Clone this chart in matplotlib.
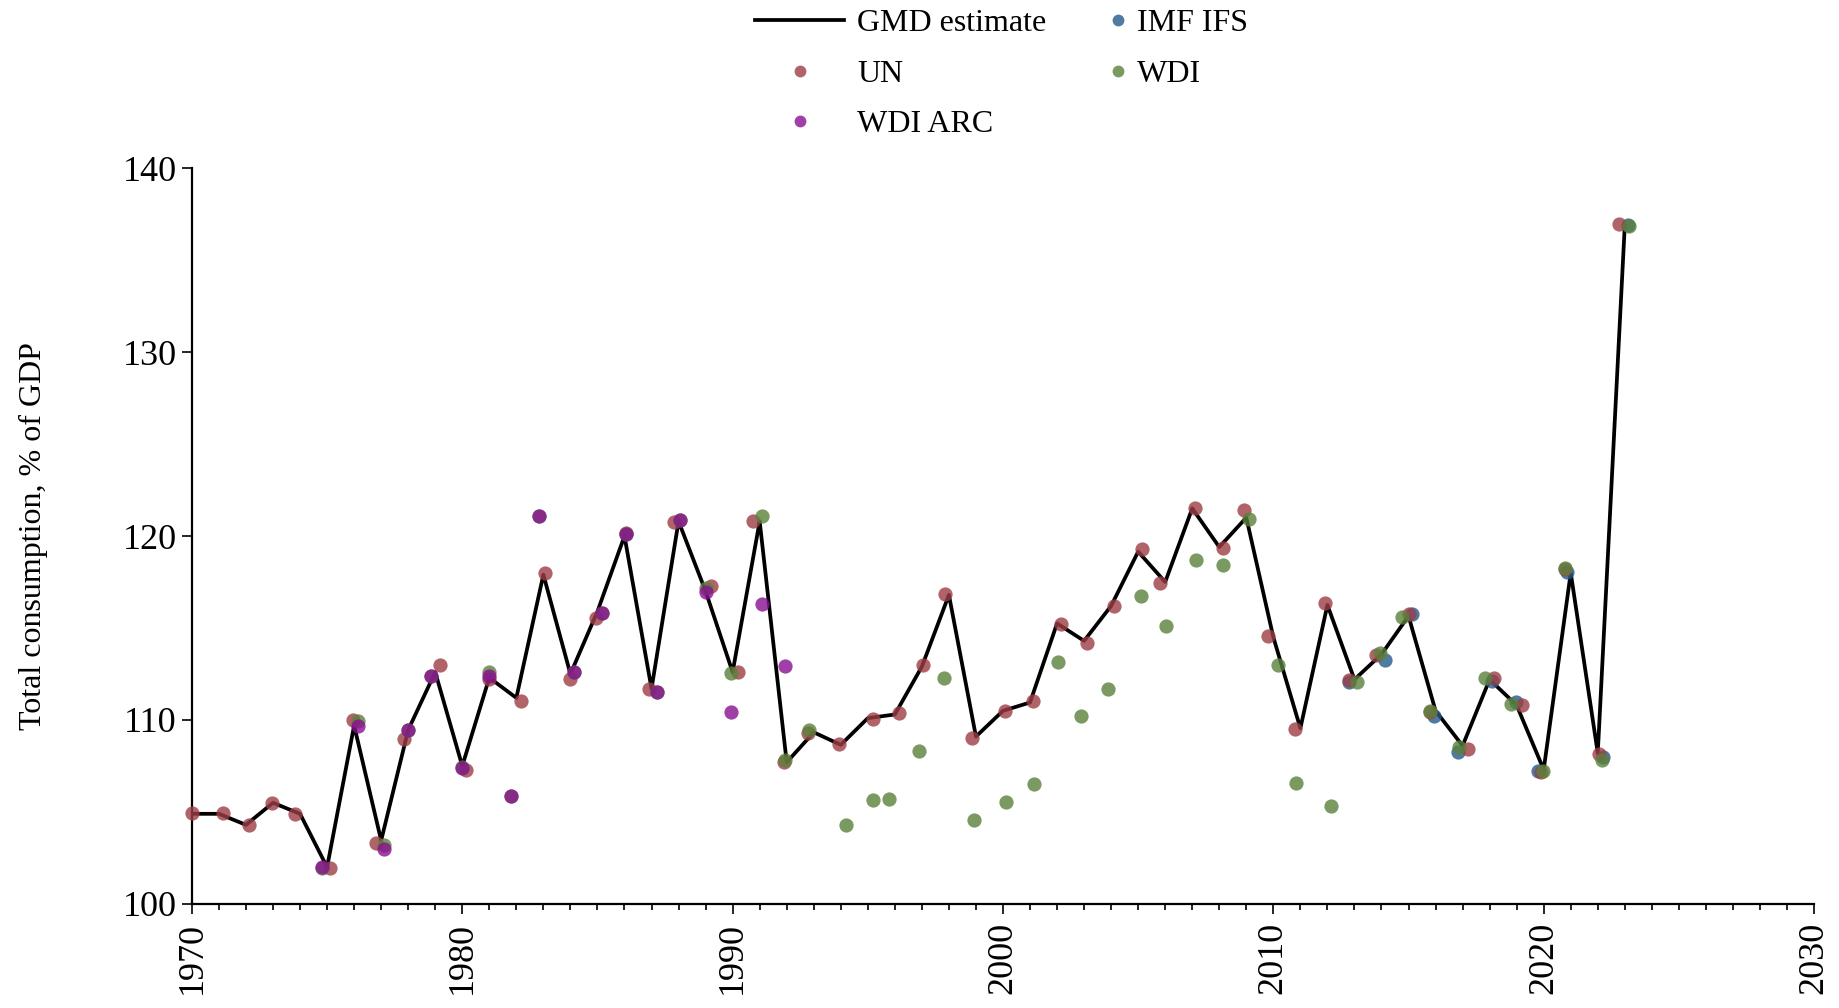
import matplotlib
matplotlib.use("Agg")
import matplotlib.pyplot as plt
from matplotlib.lines import Line2D

plt.rcParams['font.family'] = ['Liberation Serif', 'DejaVu Serif']

# GMD estimate, one value per year
gmd_years = list(range(1970, 2024))
gmd_vals = [104.9, 104.9, 104.3, 105.5, 104.9, 102.0, 109.7, 103.45, 109.46, 112.6,
            107.5, 112.3, 111.2, 117.9, 112.5, 115.9, 120.0, 111.7, 120.8, 117.0,
            112.6, 120.8, 107.7, 109.33, 108.65, 110.1, 110.3, 112.9, 116.8, 109.1,
            110.5, 110.95, 115.25, 114.3, 116.2, 119.15, 117.5, 121.5, 119.4, 121.0,
            114.5, 109.55, 116.25, 112.2, 113.57, 115.65, 110.5, 108.6, 112.2, 110.8,
            107.3, 118.0, 108.2, 136.9]

# source points (x carries the small horizontal jitter of each dot)
un_x = [1970.0, 1971.15, 1972.1, 1972.97, 1973.83, 1975.1, 1975.95, 1976.82, 1977.84, 1979.16,
        1980.15, 1981.0, 1982.18, 1983.07, 1984.0, 1984.93, 1986.06, 1986.9, 1987.85, 1989.21,
        1990.19, 1990.77, 1991.9, 1992.78, 1993.93, 1995.19, 1996.15, 1997.03, 1997.87, 1998.86,
        2000.08, 2001.1, 2002.13, 2003.11, 2004.09, 2005.15, 2005.82, 2007.11, 2008.13, 2008.93,
        2009.79, 2010.81, 2011.92, 2012.8, 2013.8, 2015.03, 2015.8, 2017.2, 2018.17, 2019.2,
        2019.9, 2020.8, 2022.03, 2022.8]
un_y = [104.96, 104.93, 104.28, 105.47, 104.89, 101.94, 110.0, 103.3, 108.95, 112.97,
        107.28, 112.21, 111.03, 118.01, 112.23, 115.56, 120.15, 111.67, 120.74, 117.28,
        112.59, 120.83, 107.74, 109.31, 108.7, 110.04, 110.36, 112.99, 116.85, 109.04,
        110.49, 111.05, 115.22, 114.17, 116.2, 119.29, 117.43, 121.54, 119.33, 121.41,
        114.57, 109.49, 116.38, 112.17, 113.53, 115.74, 110.45, 108.4, 112.26, 110.83,
        107.2, 118.2, 108.13, 136.96]

imf_x = [2012.78, 2014.14, 2015.14, 2015.96, 2016.84, 2018.07, 2018.98, 2019.78, 2020.86, 2022.18, 2023.13]
imf_y = [112.08, 113.26, 115.74, 110.22, 108.24, 112.14, 110.99, 107.25, 118.06, 107.97, 136.9]

wdi_x = [1974.8, 1976.15, 1977.1, 1978.0, 1978.85, 1980.0, 1980.98, 1981.81, 1982.83, 1984.15,
         1985.18, 1986.06, 1987.19, 1988.06, 1989.02, 1989.94, 1991.1, 1991.92, 1992.84, 1994.2,
         1995.19, 1995.8, 1996.88, 1997.8, 1998.93, 2000.11, 2001.13, 2002.05, 2002.87, 2003.88,
         2005.12, 2006.02, 2007.15, 2008.13, 2009.09, 2010.16, 2010.82, 2012.12, 2013.1, 2013.95,
         2014.76, 2015.8, 2016.88, 2017.83, 2018.79, 2019.97, 2020.77, 2022.15, 2023.17]
wdi_y = [101.95, 109.95, 103.2, 109.46, 112.39, 107.46, 112.6, 105.89, 121.1, 112.6,
         115.83, 120.1, 111.5, 120.87, 117.15, 112.57, 121.09, 107.8, 109.46, 104.29,
         105.65, 105.7, 108.32, 112.26, 104.57, 105.52, 106.52, 113.17, 110.22, 111.67,
         116.76, 115.1, 118.7, 118.42, 120.9, 112.99, 106.56, 105.34, 112.08, 113.66,
         115.62, 110.51, 108.51, 112.28, 110.85, 107.25, 118.24, 107.83, 136.85]

arc_x = [1974.8, 1976.15, 1977.12, 1978.0, 1978.85, 1980.0, 1980.98, 1981.81, 1982.83, 1984.15,
         1985.18, 1986.06, 1987.19, 1988.06, 1989.0, 1989.94, 1991.1, 1991.92]
arc_y = [102.03, 109.69, 102.99, 109.46, 112.39, 107.4, 112.4, 105.89, 121.1, 112.6,
         115.83, 120.1, 111.54, 120.87, 116.97, 110.45, 116.3, 112.93]

c_imf = '#235a8b'
c_un = '#9c3d45'
c_wdi = '#5a813b'
c_arc = '#890f92'
alpha = 0.8

fig = plt.figure(figsize=(18.4, 10.08), dpi=100)
ax = fig.add_axes([0.1043, 0.1032, 0.8816, 0.7301])

ax.plot(gmd_years, gmd_vals, color='black', lw=2.7, zorder=2)
ms = 105
ax.scatter(imf_x, imf_y, s=ms, color=c_imf, alpha=alpha, lw=0, zorder=3, clip_on=False)
ax.scatter(un_x, un_y, s=ms, color=c_un, alpha=alpha, lw=0, zorder=4, clip_on=False)
ax.scatter(wdi_x, wdi_y, s=ms, color=c_wdi, alpha=alpha, lw=0, zorder=5, clip_on=False)
ax.scatter(arc_x, arc_y, s=ms, color=c_arc, alpha=alpha, lw=0, zorder=6, clip_on=False)

ax.set_xlim(1970, 2030)
ax.set_ylim(100, 140)
ax.set_xticks(range(1970, 2031, 10))
ax.set_xticks(range(1970, 2031), minor=True)
ax.set_yticks(range(100, 141, 10))
ax.tick_params(axis='x', which='major', length=7, width=1.2, labelsize=26, labelrotation=90, pad=6)
ax.tick_params(axis='x', which='minor', length=4, width=1.2)
ax.tick_params(axis='y', which='major', length=7, width=1.2, labelsize=26, pad=4)
for s in ['top', 'right']:
    ax.spines[s].set_visible(False)
for s in ['left', 'bottom']:
    ax.spines[s].set_linewidth(1.6)

ax.set_ylabel('Total consumption, % of GDP', fontsize=23)
ax.yaxis.set_label_coords(-0.089, 0.5)

# legend in two blocks so the dot-only column gets short handles
mk = dict(marker='o', linestyle='none', markersize=8.5, alpha=alpha, markeredgewidth=0)
h1 = [Line2D([], [], color='black', lw=2.7),
      Line2D([], [], color=c_un, **mk),
      Line2D([], [], color=c_arc, **mk)]
h2 = [Line2D([], [], color=c_imf, **mk),
      Line2D([], [], color=c_wdi, **mk)]
leg1 = fig.legend(h1, ['GMD estimate', 'UN', 'WDI ARC'], loc='upper left',
                  bbox_to_anchor=(0.4103, 0.991), frameon=False, fontsize=23,
                  handlelength=2.8, handletextpad=0.4, labelspacing=0.66,
                  borderpad=0, borderaxespad=0)
leg2 = fig.legend(h2, ['IMF IFS', 'WDI'], loc='upper left',
                  bbox_to_anchor=(0.6016, 0.991), frameon=False, fontsize=23,
                  handlelength=0.7, handletextpad=0.25, labelspacing=0.66,
                  borderpad=0, borderaxespad=0)

fig.savefig('out.png', dpi=100)
